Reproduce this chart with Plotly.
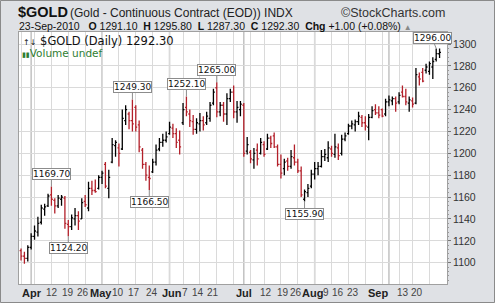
import plotly.graph_objects as go
import pandas as pd

# ---------------- data ----------------
holidays = ["2010-04-02", "2010-05-31", "2010-07-05", "2010-09-06"]
dates = [d for d in pd.bdate_range("2010-03-29", "2010-09-23")
         if d.strftime("%Y-%m-%d") not in holidays]

opens = [1111, 1106, 1104, 1114, 1124, 1128, 1137, 1149, 1152, 1162,
         1157, 1152, 1158, 1159, 1135, 1133, 1140, 1143, 1140, 1156,
         1150, 1168, 1166, 1168, 1178, 1190, 1168, 1192, 1207, 1205,
         1204, 1230, 1236, 1230, 1242, 1226, 1203, 1190, 1178, 1183,
         1192, 1204, 1210, 1212, 1218, 1223, 1218, 1212, 1228, 1242,
         1236, 1229, 1222, 1227, 1230, 1228, 1232, 1246, 1260, 1238,
         1244, 1236, 1250, 1256, 1238, 1240, 1244, 1202, 1201, 1194,
         1203, 1200, 1208, 1204, 1214, 1216, 1206, 1190, 1186, 1193,
         1188, 1196, 1192, 1184, 1158, 1164, 1170, 1181, 1186, 1188,
         1197, 1196, 1204, 1199, 1205, 1200, 1213, 1218, 1225, 1226,
         1229, 1233, 1228, 1224, 1233, 1240, 1237, 1240, 1236, 1247,
         1248, 1250, 1247, 1256, 1252, 1246, 1248, 1246, 1270, 1274,
         1276, 1275, 1279, 1286, 1291.1]
highs = [1113, 1110, 1116, 1127, 1134, 1142, 1153, 1154, 1163, 1169.7,
         1159, 1162, 1162, 1161, 1139, 1144, 1150, 1147, 1159, 1162,
         1174, 1175, 1176, 1180, 1184, 1192, 1185, 1214, 1212, 1209,
         1240, 1244, 1238, 1249.3, 1244, 1230, 1205, 1192, 1189, 1195,
         1208, 1214, 1218, 1220, 1229, 1227, 1223, 1221, 1246, 1252.1,
         1240, 1235, 1232, 1237, 1234, 1238, 1247, 1259, 1265, 1247,
         1247, 1255, 1259, 1262, 1248, 1248, 1246, 1215, 1203, 1205,
         1209, 1214, 1211, 1218, 1216, 1219, 1208, 1199, 1195, 1196,
         1203, 1208, 1195, 1188, 1167, 1172, 1185, 1192, 1192, 1203,
         1204, 1211, 1207, 1218, 1209, 1217, 1219, 1227, 1230, 1231,
         1238, 1235, 1234, 1236, 1243, 1245, 1243, 1241, 1250, 1253,
         1252, 1252, 1256, 1262, 1259, 1252, 1251, 1278, 1274, 1278,
         1282, 1284, 1288, 1296, 1295.8]
lows = [1102, 1099, 1101, 1112, 1121, 1124, 1135, 1143, 1151, 1152,
        1145, 1150, 1152, 1131, 1124.2, 1130, 1134, 1130, 1140, 1151,
        1147, 1162, 1164, 1167, 1172, 1168, 1159, 1191, 1197, 1188,
        1203, 1226, 1222, 1220, 1220, 1201, 1186, 1175, 1166.5, 1182,
        1189, 1202, 1206, 1210, 1217, 1214, 1205, 1199, 1226, 1234,
        1224, 1217, 1218, 1220, 1221, 1226, 1229, 1244, 1233, 1234,
        1229, 1226, 1247, 1232, 1228, 1234, 1197, 1199, 1191, 1186,
        1189, 1199, 1197, 1203, 1205, 1205, 1188, 1177, 1180, 1184,
        1186, 1189, 1182, 1160, 1155.9, 1160, 1168, 1176, 1180, 1187,
        1193, 1192, 1197, 1196, 1194, 1198, 1211, 1217, 1222, 1220,
        1226, 1224, 1221, 1212, 1232, 1235, 1232, 1233, 1234, 1243,
        1244, 1238, 1245, 1251, 1244, 1238, 1242, 1245, 1262, 1265,
        1273, 1272, 1268, 1284, 1287.3]
closes = [1106, 1104, 1114, 1124, 1129, 1136, 1150, 1151, 1161, 1158,
          1152, 1159, 1160, 1136, 1133, 1141, 1143, 1138, 1155, 1153,
          1168, 1166, 1165, 1178, 1182, 1170, 1178, 1208, 1210, 1200,
          1232, 1240, 1230, 1227, 1224, 1206, 1190, 1180, 1177, 1192,
          1203, 1210, 1212, 1215, 1224, 1218, 1210, 1206, 1240, 1238,
          1230, 1222, 1228, 1230, 1226, 1234, 1244, 1256, 1238, 1244,
          1236, 1250, 1256, 1238, 1242, 1245, 1200, 1208, 1195, 1200,
          1195, 1210, 1199, 1214, 1209, 1206, 1190, 1182, 1192, 1188,
          1197, 1192, 1184, 1162, 1165, 1168, 1181, 1186, 1188, 1197,
          1199, 1205, 1200, 1206, 1198, 1213, 1216, 1225, 1227, 1229,
          1234, 1228, 1225, 1233, 1239, 1237, 1235, 1234, 1247, 1249,
          1250, 1246, 1253, 1252, 1247, 1249, 1245, 1272, 1268, 1266,
          1279, 1282, 1284, 1291.3, 1292.3]

callout_values = [1169.70, 1124.20, 1249.30, 1166.50, 1252.10, 1265.00, 1155.90, 1296.00]
y_ticks = [1100, 1120, 1140, 1160, 1180, 1200, 1220, 1240, 1260, 1280, 1300]
x_labels = ["Apr", "12", "19", "26", "May", "10", "17", "24", "Jun", "7", "14", "21",
            "Jul", "12", "19", "26", "Aug", "9", "16", "23", "Sep", "13", "20"]

# ---------------- layout geometry ----------------
W, H = 495, 303
ML, MR, MT, MB = 19, 48, 32, 19
PW, PH = W - ML - MR, H - MT - MB

def px_x(px):
    return (px - ML) / PW

def px_y(py):
    return 1 - (py - MT) / PH

# centre of each x label, in picture pixels (as StockCharts placed them)
x_label_px = [32, 52, 67.5, 83, 101, 118, 134, 152, 172, 185, 198, 213,
              244, 266, 283, 296, 312, 326, 338, 353, 378, 403, 417]

BLACK = "#000000"
RED = "#b3202a"
FONT = "Liberation Sans, Arial, sans-serif"
VFONT = "DejaVu Sans, Verdana, sans-serif"

idx = list(range(len(dates)))
prev = [opens[0]] + closes[:-1]
up = [i for i in idx if closes[i] >= prev[i]]
dn = [i for i in idx if closes[i] < prev[i]]

fig = go.Figure()
for sel, col in ((up, BLACK), (dn, RED)):
    fig.add_trace(go.Ohlc(
        x=[idx[i] for i in sel],
        open=[opens[i] for i in sel], high=[highs[i] for i in sel],
        low=[lows[i] for i in sel], close=[closes[i] for i in sel],
        increasing=dict(line=dict(color=col, width=1.3)),
        decreasing=dict(line=dict(color=col, width=1.3)),
        tickwidth=0.42, showlegend=False, hoverinfo="skip"))

# weekly and monthly grid positions from dates
week_starts, month_starts = [], []
for i, d in enumerate(dates):
    if i == 0 or d.isocalendar()[1] != dates[i - 1].isocalendar()[1]:
        week_starts.append(i)
    if i > 0 and d.month != dates[i - 1].month:
        month_starts.append(i)

shapes = []
for m in month_starts:
    shapes.append(dict(type="line", xref="x", yref="paper", x0=m, x1=m, y0=0, y1=1,
                       line=dict(color="#c2c2c2", width=1.5), layer="below"))
# outer frame
shapes.append(dict(type="rect", xref="paper", yref="paper",
                   x0=px_x(0.5), x1=px_x(W - 0.5), y0=px_y(H - 0.5), y1=px_y(0.5),
                   line=dict(color="#8a8a8a", width=1), layer="below"))

annotations = []
# callouts
for v in callout_values:
    if v in highs:
        i = highs.index(v); ay = -12
    else:
        i = lows.index(v); ay = 12
    ax = 0
    if i > len(idx) - 4:
        ax, ay = -4, -10
    annotations.append(dict(x=i, y=v, xref="x", yref="y", text=f"{v:.2f}",
                            showarrow=True, arrowhead=0, arrowwidth=1, arrowcolor="#8c8c8c",
                            ax=ax, ay=ay, bgcolor="white", bordercolor="#8c8c8c",
                            borderwidth=1, borderpad=0,
                            font=dict(family=VFONT, size=9, color="#111")))
# x tick labels
for t, p in zip(x_labels, x_label_px):
    is_month = t.isalpha()
    annotations.append(dict(x=px_x(p), y=px_y(292.5), xref="paper", yref="paper",
                            text=f"<b>{t}</b>" if is_month else t, showarrow=False,
                            xanchor="center", yanchor="middle",
                            font=dict(family=FONT, size=11 if is_month else 10,
                                      color="#222" if is_month else "#444")))
# header texts
annotations += [
    dict(x=px_x(16), y=px_y(2), xref="paper", yref="paper", xanchor="left", yanchor="top",
         showarrow=False, text="<b>$GOLD</b>",
         font=dict(family=FONT, size=14.5, color="#111")),
    dict(x=px_x(68), y=px_y(4), xref="paper", yref="paper", xanchor="left", yanchor="top",
         showarrow=False, text="(Gold - Continuous Contract (EOD)) INDX",
         font=dict(family=FONT, size=12, color="#222")),
    dict(x=px_x(447), y=px_y(4), xref="paper", yref="paper", xanchor="right", yanchor="top",
         showarrow=False, text="©StockCharts.com",
         font=dict(family=FONT, size=12.5, color="#333")),
    dict(x=px_x(17), y=px_y(18), xref="paper", yref="paper", xanchor="left", yanchor="top",
         showarrow=False,
         text=("23-Sep-2010 &nbsp; <b>O</b> 1291.10 &nbsp;<b>H</b> 1295.80 &nbsp;<b>L</b> 1287.30"
               " &nbsp;<b>C</b> 1292.30 &nbsp;<b>Chg</b> +1.00 (+0.08%) <span style='font-size:8px;color:#888'>▲</span>"),
         font=dict(family=FONT, size=10.5, color="#111")),
    dict(x=px_x(21), y=px_y(31.5), xref="paper", yref="paper", xanchor="left", yanchor="top",
         showarrow=False,
         text="<span style='font-size:8px'>↑↓</span> $GOLD (Daily) 1292.30",
         font=dict(family=VFONT, size=11.5, color="#111")),
    dict(x=px_x(20), y=px_y(45), xref="paper", yref="paper", xanchor="left", yanchor="top",
         showarrow=False,
         text="<span style='font-size:7px'>▮▮</span>Volume undef",
         font=dict(family=VFONT, size=10.5, color="#2e7d32")),
]

fig.update_layout(
    width=W, height=H,
    margin=dict(l=ML, r=MR, t=MT, b=MB),
    paper_bgcolor="#dfe1e5", plot_bgcolor="white",
    xaxis=dict(range=[-0.6, 126.2], tickmode="array", tickvals=week_starts,
               showticklabels=False, ticks="", showgrid=True, gridcolor="#dadada",
               gridwidth=1, zeroline=False, showline=True, mirror=True,
               linecolor="#a0a0a0", rangeslider=dict(visible=False), fixedrange=True),
    yaxis=dict(range=[1080.5, 1311], side="right", tickmode="array", tickvals=y_ticks,
               ticks="outside", ticklen=3, tickcolor="#777", showgrid=True,
               gridcolor="#dadada", zeroline=False, showline=True, mirror=True,
               linecolor="#a0a0a0", tickfont=dict(family=FONT, size=10.5, color="#333"),
               minor=dict(ticks="outside", ticklen=1, dtick=4, tickcolor="#999", showgrid=False)),
    shapes=shapes, annotations=annotations, showlegend=False,
)

fig.write_html("out.html")
